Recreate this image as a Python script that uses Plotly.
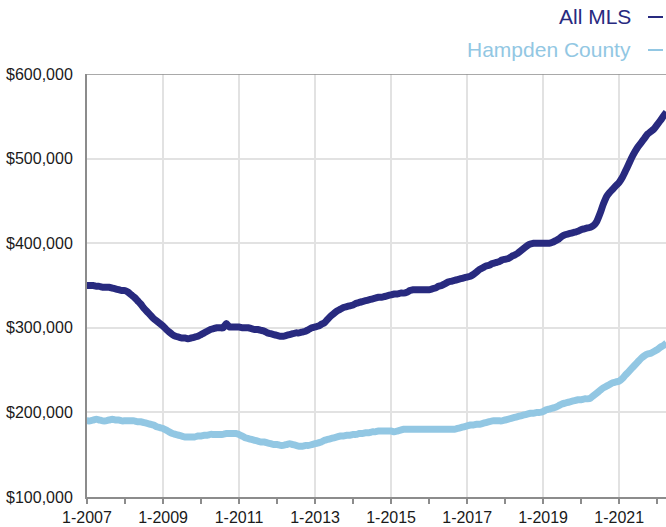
import pandas as pd
import plotly.graph_objects as go

# Monthly values (thousands of dollars), Jan 2007 onward
all_mls_k = [
    350, 350, 350, 349, 349, 348, 348, 348, 347, 346, 345, 344,  # 2007
    344, 342, 339, 336, 332, 328, 323, 319, 315, 311, 308, 305,  # 2008
    302, 298, 295, 292, 290, 289, 288, 288, 287, 288, 289, 290,  # 2009
    292, 294, 296, 298, 299, 300, 300, 300, 305, 301, 301, 301,  # 2010
    301, 300, 300, 300, 299, 298, 298, 297, 296, 294, 293, 292,  # 2011
    291, 290, 290, 291, 292, 293, 294, 294, 295, 296, 298, 300,  # 2012
    301, 302, 304, 306, 310, 314, 317, 320, 322, 324, 325, 326,  # 2013
    327, 329, 330, 331, 332, 333, 334, 335, 336, 336, 337, 338,  # 2014
    339, 340, 340, 341, 341, 342, 344, 345, 345, 345, 345, 345,  # 2015
    345, 346, 347, 349, 350, 352, 354, 355, 356, 357, 358, 359,  # 2016
    360, 361, 363, 366, 369, 371, 373, 374, 376, 377, 378, 380,  # 2017
    381, 382, 384, 386, 388, 391, 394, 397, 399, 400, 400, 400,  # 2018
    400, 400, 400, 401, 403, 405, 408, 410, 411, 412, 413, 414,  # 2019
    416, 417, 418, 419, 421, 426, 435, 446, 455, 460, 464, 468,  # 2020
    472, 478, 485, 493, 501, 508, 514, 519, 524, 529, 532, 535,  # 2021
    540, 545, 550, 555,                                          # 2022
]
hampden_k = [
    190, 190, 191, 192, 191, 190, 190, 191, 192, 191, 191, 190,  # 2007
    190, 190, 190, 190, 189, 189, 188, 187, 186, 185, 183, 182,  # 2008
    181, 179, 177, 175, 174, 173, 172, 171, 171, 171, 171, 172,  # 2009
    172, 173, 173, 174, 174, 174, 174, 174, 175, 175, 175, 175,  # 2010
    174, 172, 170, 169, 168, 167, 166, 165, 165, 164, 163, 162,  # 2011
    162, 161, 161, 162, 163, 162, 161, 160, 160, 161, 161, 162,  # 2012
    163, 164, 165, 167, 168, 169, 170, 171, 172, 172, 173, 173,  # 2013
    174, 174, 175, 175, 176, 176, 177, 177, 178, 178, 178, 178,  # 2014
    178, 177, 178, 179, 180, 180, 180, 180, 180, 180, 180, 180,  # 2015
    180, 180, 180, 180, 180, 180, 180, 180, 180, 181, 182, 183,  # 2016
    184, 185, 185, 186, 186, 187, 188, 189, 190, 190, 190, 190,  # 2017
    191, 192, 193, 194, 195, 196, 197, 198, 199, 199, 200, 200,  # 2018
    201, 203, 204, 205, 206, 208, 210, 211, 212, 213, 214, 215,  # 2019
    215, 216, 216, 217, 220, 223, 226, 229, 231, 233, 235, 236,  # 2020
    237, 240, 244, 248, 252, 256, 260, 264, 267, 269, 270, 272,  # 2021
    274, 277, 279, 282,                                          # 2022
]
series_names = ["All MLS", "Hampden County"]
start_month = "2007-01-01"

months = pd.date_range(start_month, periods=len(all_mls_k), freq="MS")
all_mls = [v * 1000 for v in all_mls_k]
hampden = [v * 1000 for v in hampden_k]

NAVY = "#282a7f"
LIGHT = "#92c7e3"
AXIS = "#8c8c8c"
GRID = "#e2e2e2"
FONT = "Liberation Sans, Arial, Helvetica, sans-serif"

fig = go.Figure()
fig.add_trace(go.Scatter(x=months, y=hampden, mode="lines", name=series_names[1],
                         line=dict(color=LIGHT, width=7, shape="spline", smoothing=0.5),
                         showlegend=False))
fig.add_trace(go.Scatter(x=months, y=all_mls, mode="lines", name=series_names[0],
                         line=dict(color=NAVY, width=7, shape="spline", smoothing=0.5),
                         showlegend=False))

fig.update_layout(
    width=666, height=527,
    margin=dict(l=87, r=0, t=74, b=30, autoexpand=False),
    plot_bgcolor="white", paper_bgcolor="white",
    font=dict(family=FONT, size=16, color="#1a1a1a"),
    xaxis=dict(
        type="date",
        range=["2007-01-01", "2022-03-27"],
        tick0="2007-01-01", dtick="M24", tickformat="%-m-%Y",
        ticks="outside", ticklen=5, tickwidth=1.5, tickcolor=AXIS,
        showgrid=True, gridcolor=GRID, gridwidth=1.5,
        showline=True, linecolor=AXIS, linewidth=2,
        minor=dict(dtick="M12", ticks="outside", ticklen=5, tickwidth=1.5,
                   tickcolor=AXIS, showgrid=False),
        tickfont=dict(size=16, color="#1a1a1a"),
    ),
    yaxis=dict(
        range=[100000, 600000], dtick=100000, tickformat="$,.0f",
        showgrid=True, gridcolor=GRID, gridwidth=1.5,
        showline=True, linecolor=AXIS, linewidth=2,
        zeroline=False, ticks="", ticklabelstandoff=9,
        tickfont=dict(size=16, color="#1a1a1a"),
    ),
)

# top frame line at $600,000
fig.add_shape(type="line", xref="paper", yref="y", x0=0, x1=1, y0=600000, y1=600000,
              line=dict(color=AXIS, width=1.5))

# legend built as coloured text with a dash marker
plot_w = 666 - 87
plot_h = 527 - 74 - 30
def px_x(p):
    return (p - 87) / plot_w
def px_y(p):
    return (497 - p) / plot_h

for name, color, ypx in [(series_names[0], NAVY, 17), (series_names[1], LIGHT, 50)]:
    fig.add_annotation(text=name, xref="paper", yref="paper", x=px_x(633), y=px_y(ypx),
                       xanchor="right", yanchor="middle", showarrow=False,
                       font=dict(family=FONT, size=21, color=color))
    fig.add_shape(type="line", xref="paper", yref="paper", x0=px_x(648), x1=px_x(663),
                  y0=px_y(ypx), y1=px_y(ypx), line=dict(color=color, width=2))

fig.write_html("out.html", config={"displayModeBar": False},
               post_script="document.body.style.margin='0';document.body.style.padding='0';")
